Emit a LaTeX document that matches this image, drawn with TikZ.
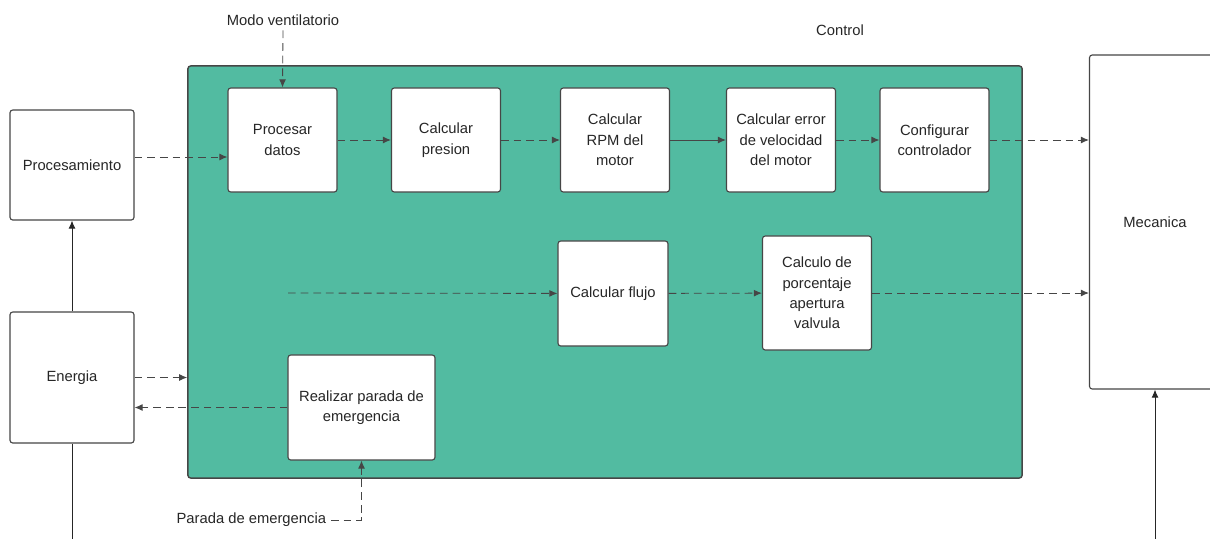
\documentclass[tikz,border=0pt]{standalone}
\usepackage{fontspec}
\setmainfont{Liberation Sans}
\usepackage{tikz}
\usetikzlibrary{arrows.meta}
\definecolor{ctrlteal}{RGB}{82,187,161}
\definecolor{lineg}{RGB}{70,70,70}

\begin{document}
\begin{tikzpicture}[x=0.025cm, y=-0.025cm,
	every node/.style={font=\fontsize{10.5}{14.5}\selectfont, text=black!85},
	blockbox/.style={draw=lineg, line width=0.8pt, fill=white, rounded corners=2pt, align=center, minimum width=2.725cm, minimum height=2.6cm, inner sep=1pt},
	container/.style={draw=lineg, line width=1pt, fill=ctrlteal, rounded corners=2pt, minimum width=20.85cm, minimum height=10.3cm},
	dasharrow/.style={draw=lineg, line width=0.6pt, dash pattern=on 5.5pt off 3.5pt, -{Latex[length=2mm, width=1.7mm]}},
	solidarrow/.style={draw=black!85, line width=0.6pt, -{Latex[length=2mm, width=1.7mm]}}]
	%%%%% START %%%%%
	
	\useasboundingbox (0,0) rectangle (1210,539);
	
	\node[container] (ctrl) at (605,272) {};
	\node (ctrllbl) at (840,30) {Control};
	
	\node[blockbox, minimum width=3.1cm, minimum height=2.75cm] (proc) at (72,165) {Procesamiento};
	\node[blockbox, minimum width=3.1cm, minimum height=3.275cm] (ener) at (72,377.5) {Energia};
	\node[blockbox, minimum width=3.275cm, minimum height=8.35cm] (mec) at (1155,222) {Mecanica};
	
	\node[blockbox] (datos) at (282.5,140) {Procesar\\datos};
	\node[blockbox] (pres) at (446,140) {Calcular\\presion};
	\node[blockbox] (rpm) at (615,140) {Calcular\\RPM del\\motor};
	\node[blockbox] (err) at (781,140) {Calcular error\\de velocidad\\del motor};
	\node[blockbox] (conf) at (934.5,140) {Configurar\\controlador};
	
	\node[blockbox, minimum width=2.75cm, minimum height=2.625cm] (flujo) at (613,293.5) {Calcular flujo};
	\node[blockbox, minimum height=2.85cm] (valv) at (817,293) {Calculo de\\porcentaje\\apertura\\valvula};
	\node[blockbox, minimum width=3.675cm, minimum height=2.625cm] (real) at (361.5,407.5) {Realizar parada de\\emergencia};
	
	\node (modo) at (283,20) {Modo ventilatorio};
	\node[anchor=east] (paradalbl) at (331,520) {Parada de emergencia};
	
	\coordinate (fstart) at (288,293);
	\coordinate (ebot) at (72,539);
	\coordinate (mbot) at (1155,539);
	
	% flujo principal
	\draw[dasharrow] (modo.south) -- (datos.north);
	\draw[dasharrow] (proc.east |- 0,157) -- (datos.west |- 0,157);
	\draw[dasharrow] (datos) -- (pres);
	\draw[dasharrow] (pres) -- (rpm);
	\draw[solidarrow, draw=lineg] (rpm) -- (err);
	\draw[dasharrow] (err) -- (conf);
	\draw[dasharrow] (conf.east) -- (conf.east -| mec.west);
	
	\draw[dasharrow] (fstart) -- (flujo);
	\draw[dasharrow] (flujo) -- (valv);
	\draw[dasharrow] (valv.east) -- (valv.east -| mec.west);
	
	% energia
	\draw[solidarrow] (ener.north) -- (proc.south);
	\draw[line width=0.6pt, black!85] (ener.south) -- (ebot);
	\draw[solidarrow] (mbot) -- (mec.south);
	\draw[dasharrow] (ener.east) -- (ener.east -| ctrl.west);
	\draw[dasharrow] (real.west) -- (real.west -| ener.east);
	\draw[dasharrow] (paradalbl.east) -| (real.south);
	
	%%%%% END %%%%%
\end{tikzpicture}
\end{document}
